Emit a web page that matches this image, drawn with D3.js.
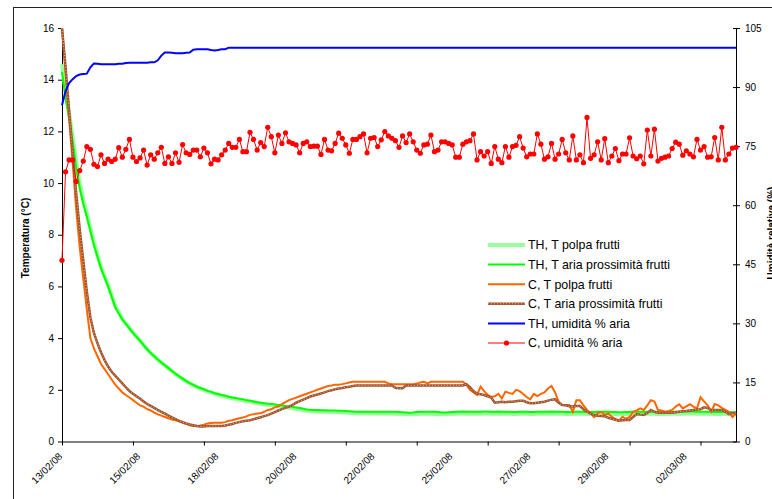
<!DOCTYPE html>
<html>
<head>
<meta charset="utf-8">
<script src="https://cdn.jsdelivr.net/npm/d3@7"></script>
<style>
  body { margin: 0; background: #fff; }
  text { font-family: "Liberation Sans", Arial, sans-serif; }
</style>
</head>
<body>
<div id="chart"></div>
<script>
// date labels shown on the category axis (one every 22 readings)
var xLabels = ["13/02/08", "15/02/08", "18/02/08", "20/02/08", "22/02/08",
  "25/02/08", "27/02/08", "29/02/08", "02/03/08"];
var labelEvery = 22, tickEvery = 20;

var tempTicks = [0, 2, 4, 6, 8, 10, 12, 14, 16];
var humTicks = [0, 15, 30, 45, 60, 75, 90, 105];

// TH, T polpa frutti
var tPolpaTH = [
  14.6, 13.6, 12.7, 11.8, 10.8, 10.0, 9.35, 8.8, 8.25, 7.7,
  7.2, 6.75, 6.4, 6.05, 5.65, 5.25, 5.0, 4.75, 4.57, 4.4,
  4.22, 4.06, 3.9, 3.73, 3.57, 3.42, 3.29, 3.16, 3.05, 2.94,
  2.83, 2.72, 2.61, 2.51, 2.42, 2.33, 2.25, 2.18, 2.11, 2.05,
  2.0, 1.94, 1.9, 1.85, 1.81, 1.77, 1.74, 1.7, 1.67, 1.65,
  1.62, 1.6, 1.57, 1.55, 1.52, 1.49, 1.47, 1.44, 1.42, 1.41,
  1.39, 1.37, 1.35, 1.33, 1.31, 1.29, 1.27, 1.25, 1.22, 1.19,
  1.17, 1.17, 1.16, 1.16, 1.15, 1.15, 1.14, 1.14, 1.13, 1.13,
  1.12, 1.11, 1.1, 1.09, 1.09, 1.09, 1.09, 1.08, 1.08, 1.08,
  1.08, 1.08, 1.08, 1.08, 1.07, 1.07, 1.06, 1.05, 1.05, 1.05,
  1.06, 1.07, 1.07, 1.07, 1.07, 1.06, 1.05, 1.05, 1.05, 1.06,
  1.07, 1.07, 1.08, 1.08, 1.07, 1.07, 1.07, 1.07, 1.07, 1.08,
  1.08, 1.07, 1.07, 1.08, 1.07, 1.07, 1.07, 1.06, 1.06, 1.07,
  1.07, 1.07, 1.06, 1.06, 1.07, 1.07, 1.07, 1.07, 1.08, 1.07,
  1.07, 1.07, 1.06, 1.06, 1.06, 1.07, 1.07, 1.07, 1.06, 1.06,
  1.06, 1.07, 1.07, 1.07, 1.07, 1.06, 1.06, 1.05, 1.05, 1.06,
  1.06, 1.07, 1.07, 1.07, 1.07, 1.07, 1.07, 1.07, 1.06, 1.06,
  1.06, 1.06, 1.07, 1.07, 1.07, 1.07, 1.08, 1.08, 1.08, 1.07,
  1.07, 1.07, 1.07, 1.07, 1.06, 1.06, 1.06, 1.06, 1.05, 1.05,
  1.05
];

// TH, T aria prossimita frutti
var tAriaTH = [
  14.3, 13.3, 12.5, 11.6, 10.6, 9.8, 9.2, 8.7, 8.15, 7.6,
  7.15, 6.7, 6.35, 6.0, 5.6, 5.2, 4.95, 4.72, 4.55, 4.38,
  4.2, 4.05, 3.9, 3.73, 3.57, 3.42, 3.3, 3.17, 3.06, 2.95,
  2.84, 2.73, 2.62, 2.52, 2.43, 2.34, 2.26, 2.19, 2.12, 2.07,
  2.02, 1.96, 1.92, 1.87, 1.84, 1.8, 1.77, 1.73, 1.7, 1.68,
  1.65, 1.63, 1.6, 1.58, 1.55, 1.52, 1.5, 1.48, 1.46, 1.45,
  1.43, 1.41, 1.39, 1.37, 1.36, 1.34, 1.32, 1.3, 1.27, 1.24,
  1.22, 1.22, 1.22, 1.21, 1.21, 1.2, 1.2, 1.2, 1.19, 1.19,
  1.18, 1.17, 1.16, 1.15, 1.15, 1.15, 1.15, 1.15, 1.15, 1.15,
  1.15, 1.15, 1.15, 1.15, 1.15, 1.14, 1.13, 1.12, 1.11, 1.12,
  1.14, 1.15, 1.15, 1.15, 1.15, 1.15, 1.14, 1.12, 1.12, 1.13,
  1.14, 1.15, 1.15, 1.16, 1.15, 1.15, 1.15, 1.15, 1.15, 1.16,
  1.16, 1.15, 1.15, 1.16, 1.15, 1.15, 1.15, 1.14, 1.14, 1.15,
  1.15, 1.15, 1.14, 1.14, 1.15, 1.15, 1.15, 1.15, 1.16, 1.15,
  1.15, 1.15, 1.14, 1.14, 1.14, 1.15, 1.15, 1.15, 1.14, 1.14,
  1.14, 1.15, 1.15, 1.15, 1.15, 1.14, 1.14, 1.13, 1.13, 1.14,
  1.14, 1.15, 1.15, 1.15, 1.15, 1.15, 1.15, 1.15, 1.14, 1.14,
  1.14, 1.14, 1.15, 1.15, 1.15, 1.15, 1.16, 1.16, 1.16, 1.15,
  1.15, 1.15, 1.15, 1.15, 1.14, 1.14, 1.14, 1.14, 1.13, 1.13,
  1.13
];

// C, T polpa frutti
var tPolpaC = [
  16, 14.3, 12.5, 10.8, 9.0, 7.5, 6.3, 5.1, 4.0, 3.6,
  3.3, 3.0, 2.8, 2.6, 2.4, 2.2, 2.05, 1.9, 1.8, 1.7,
  1.6, 1.5, 1.4, 1.35, 1.25, 1.2, 1.12, 1.05, 1.0, 0.95,
  0.9, 0.85, 0.82, 0.78, 0.72, 0.68, 0.63, 0.6, 0.6, 0.62,
  0.65, 0.7, 0.72, 0.73, 0.73, 0.73, 0.75, 0.8, 0.82, 0.86,
  0.9, 0.93, 0.97, 1.03, 1.05, 1.08, 1.09, 1.15, 1.22, 1.25,
  1.32, 1.36, 1.45, 1.52, 1.6, 1.65, 1.7, 1.75, 1.8, 1.85,
  1.9, 1.95, 2.0, 2.05, 2.1, 2.15, 2.17, 2.2, 2.2, 2.22,
  2.25, 2.28, 2.31, 2.31, 2.31, 2.31, 2.31, 2.31, 2.31, 2.31,
  2.31, 2.31, 2.25, 2.22, 2.22, 2.22, 2.22, 2.22, 2.22, 2.22,
  2.24, 2.28, 2.31, 2.25, 2.31, 2.31, 2.31, 2.31, 2.31, 2.31,
  2.31, 2.31, 2.31, 2.31, 2.2, 2.0, 1.9, 1.8, 2.12, 1.95,
  1.8, 1.73, 1.75, 1.84, 1.67, 1.93, 1.88, 1.84, 2.0, 1.95,
  1.84, 1.72, 1.63, 1.84, 1.76, 1.84, 1.9, 2.05, 2.15, 1.9,
  1.54, 1.41, 1.41, 1.41, 1.15, 1.6, 1.6, 1.4, 1.22, 1.1,
  0.94, 1.1, 1.15, 1.03, 1.09, 0.95, 0.88, 0.8, 0.96, 0.88,
  0.95, 1.15, 1.2, 1.28, 1.22, 1.4, 1.6, 1.55, 1.22, 1.2,
  1.15, 1.18, 1.22, 1.35, 1.44, 1.28, 1.36, 1.44, 1.35, 1.28,
  1.71, 1.55, 1.4, 1.15, 1.45, 1.4, 1.3, 1.22, 1.15, 0.94,
  1.09
];

// C, T aria prossimita frutti
var tAriaC = [
  16, 14.5, 12.8, 11.2, 9.6, 8.2, 7.0, 5.8, 4.8, 4.2,
  3.8, 3.45, 3.15, 2.9, 2.7, 2.55, 2.4, 2.25, 2.1, 1.95,
  1.85, 1.75, 1.65, 1.55, 1.45, 1.38, 1.3, 1.22, 1.15, 1.08,
  1.0, 0.93, 0.87, 0.8, 0.75, 0.7, 0.66, 0.63, 0.6, 0.58,
  0.58, 0.6, 0.6, 0.6, 0.6, 0.6, 0.62, 0.65, 0.68, 0.72,
  0.75, 0.78, 0.8, 0.82, 0.86, 0.9, 0.94, 0.98, 1.02, 1.08,
  1.14, 1.2, 1.25, 1.3, 1.35, 1.42, 1.5, 1.56, 1.62, 1.68,
  1.74, 1.78, 1.82, 1.86, 1.9, 1.95, 1.98, 2.02, 2.05, 2.07,
  2.1, 2.12, 2.15, 2.17, 2.17, 2.17, 2.17, 2.17, 2.17, 2.17,
  2.17, 2.17, 2.17, 2.17, 2.08, 2.06, 2.06, 2.17, 2.17, 2.17,
  2.17, 2.17, 2.17, 2.17, 2.17, 2.17, 2.17, 2.17, 2.17, 2.17,
  2.17, 2.17, 2.17, 2.17, 2.22, 2.1, 1.95, 1.85, 1.83, 1.8,
  1.75, 1.7, 1.5, 1.52, 1.54, 1.52, 1.54, 1.54, 1.56, 1.58,
  1.58, 1.52, 1.48, 1.48, 1.5, 1.52, 1.54, 1.58, 1.62, 1.63,
  1.5, 1.41, 1.4, 1.36, 1.35, 1.37, 1.37, 1.25, 1.15, 1.08,
  1.03, 1.0, 0.99, 0.98, 0.92, 0.88, 0.84, 0.8, 0.82, 0.83,
  0.83, 0.95, 1.06, 1.04, 1.03, 1.1, 1.22, 1.15, 1.11, 1.11,
  1.11, 1.11, 1.11, 1.13, 1.15, 1.17, 1.18, 1.2, 1.22, 1.24,
  1.25, 1.32, 1.3, 1.22, 1.22, 1.22, 1.22, 1.15, 1.06, 1.1,
  1.1
];

// TH, umidita % aria
var humTH = [
  85.4, 89, 91, 92, 92.8, 93.2, 93.3, 93.4, 95, 96,
  95.9, 95.8, 95.8, 95.8, 95.8, 95.8, 95.9, 95.9, 96.1, 96.2,
  96.2, 96.2, 96.2, 96.2, 96.2, 96.3, 96.3, 96.8, 98.0, 98.8,
  98.8, 98.7, 98.6, 98.6, 98.6, 98.7, 98.8, 99.5, 99.6, 99.6,
  99.6, 99.6, 99.4, 99.3, 99.4, 99.6, 99.6, 100, 100, 100,
  100, 100, 100, 100, 100, 100, 100, 100, 100, 100,
  100, 100, 100, 100, 100, 100, 100, 100, 100, 100,
  100, 100, 100, 100, 100, 100, 100, 100, 100, 100,
  100, 100, 100, 100, 100, 100, 100, 100, 100, 100,
  100, 100, 100, 100, 100, 100, 100, 100, 100, 100,
  100, 100, 100, 100, 100, 100, 100, 100, 100, 100,
  100, 100, 100, 100, 100, 100, 100, 100, 100, 100,
  100, 100, 100, 100, 100, 100, 100, 100, 100, 100,
  100, 100, 100, 100, 100, 100, 100, 100, 100, 100,
  100, 100, 100, 100, 100, 100, 100, 100, 100, 100,
  100, 100, 100, 100, 100, 100, 100, 100, 100, 100,
  100, 100, 100, 100, 100, 100, 100, 100, 100, 100,
  100, 100, 100, 100, 100, 100, 100, 100, 100, 100,
  100, 100, 100, 100, 100, 100, 100, 100, 100, 100,
  100
];

// C, umidita % aria
var humC = [
  46, 68.5, 71.5, 71.5, 66, 68.8, 71.2, 74.9, 74.2, 70.4,
  69.8, 72.8, 70.6, 71.7, 71.1, 71.7, 74.6, 72.2, 74.2, 76.7,
  72.2, 71.1, 72, 74, 70.2, 72.8, 71.7, 73.3, 74.7, 70.6,
  72.3, 70.6, 73.3, 70.9, 75.4, 73.3, 72.9, 74, 74, 72.3,
  74.5, 73.3, 70.5, 71.7, 71.5, 72.8, 74, 75.7, 74.7, 74.7,
  76.7, 73.6, 73.6, 78.5, 76.7, 74, 75.9, 74.9, 79.8, 77.4,
  73.3, 77.8, 75.7, 78.4, 76.1, 75.7, 75.3, 73.3, 75.7, 76.1,
  74.9, 75, 75, 72.9, 76.7, 74, 73.8, 75.7, 78.3, 77,
  75.3, 73.2, 76.7, 76.7, 77.4, 78.1, 73.3, 77, 77.2, 74.9,
  76.6, 78.7, 77.6, 77, 76.4, 74.7, 77.6, 75.9, 78.1, 76.1,
  74, 73.2, 75.3, 75.5, 77.8, 73.6, 74, 76.1, 76.1, 75.7,
  75.3, 72.2, 72.2, 75.5, 76.1, 76.4, 78.1, 71.5, 73.6, 72.5,
  73.6, 70.6, 74.9, 71.7, 70.8, 74.9, 72.2, 74.9, 75.2, 77.4,
  74.5, 72.3, 73, 73, 78.1, 75.5, 71.7, 72.3, 75.7, 71.7,
  73, 76.7, 73.3, 71.5, 77.6, 71.5, 72.8, 70.8, 82.3, 71.9,
  72.8, 76.1, 71.5, 76.9, 70.8, 72.5, 74.4, 71.3, 73, 73,
  77.1, 72.5, 71.8, 72.5, 70.5, 79.1, 72.5, 79.3, 71.2, 71.9,
  72.2, 72.5, 74.4, 76, 75.5, 72.7, 73.8, 73, 72.3, 76.7,
  74, 74.9, 72.2, 72.3, 77.2, 71.5, 79.8, 71.5, 73, 74.5,
  74.7
];

var width = 772, height = 499;
var plot = { left: 62, right: 736, top: 28, bottom: 441.5 };

var svg = d3
  .select("#chart")
  .append("svg")
  .attr("width", width)
  .attr("height", height);

// outer chart frame (runs off the picture on the right and bottom)
svg
  .append("rect")
  .attr("x", 13.5)
  .attr("y", 7.5)
  .attr("width", 800)
  .attr("height", 600)
  .attr("fill", "none")
  .attr("stroke", "#222");

var x = d3.scaleLinear().domain([0, humC.length - 1]).range([plot.left, plot.right]);
var yT = d3.scaleLinear().domain([0, 16]).range([plot.bottom, plot.top]);
var yH = d3.scaleLinear().domain([0, 105]).range([plot.bottom, plot.top]);

// left axis
var gl = svg
  .append("g")
  .attr("transform", "translate(" + plot.left + ",0)")
  .call(d3.axisLeft(yT).tickValues(tempTicks).tickSize(4).tickSizeOuter(0).tickPadding(4));

// right axis
var gr = svg
  .append("g")
  .attr("transform", "translate(" + plot.right + ",0)")
  .call(d3.axisRight(yH).tickValues(humTicks).tickSize(4).tickSizeOuter(0).tickPadding(5));
gr.selectAll(".tick line").attr("x1", -3);

// bottom axis: tick marks every 20 readings, labels every 22
var tickIdx = d3.range(0, humC.length, tickEvery);
var gb = svg
  .append("g")
  .attr("transform", "translate(0," + plot.bottom + ")")
  .call(d3.axisBottom(x).tickValues(tickIdx).tickSize(4).tickSizeOuter(0).tickFormat(""));

[gl, gr, gb].forEach(function (g) {
  g.select(".domain").attr("stroke", "#000");
  g.selectAll(".tick line").attr("stroke", "#000");
  g.selectAll("text")
    .attr("fill", "#000")
    .style("font-size", "10px")
    .style("font-family", "'Liberation Sans', Arial, sans-serif");
});

svg
  .append("g")
  .selectAll("text")
  .data(xLabels)
  .enter()
  .append("text")
  .attr("transform", function (d, i) {
    return "translate(" + (x(i * labelEvery) + 1) + ",457)rotate(-45)";
  })
  .attr("text-anchor", "end")
  .style("font-size", "10px")
  .text(function (d) {
    return d;
  });

// axis titles
svg
  .append("text")
  .attr("transform", "translate(29,238)rotate(-90)")
  .attr("text-anchor", "middle")
  .style("font-size", "10px")
  .style("font-weight", "bold")
  .text("Temperatura (°C)");

svg
  .append("text")
  .attr("transform", "translate(775,233)rotate(-90)")
  .attr("text-anchor", "middle")
  .style("font-size", "10px")
  .style("font-weight", "bold")
  .text("Umidità relativa (%)");

// series
function tLine(vals) {
  return d3
    .line()
    .x(function (d, i) { return x(i); })
    .y(function (d) { return yT(d); })(vals);
}
function hLine(vals) {
  return d3
    .line()
    .x(function (d, i) { return x(i); })
    .y(function (d) { return yH(d); })(vals);
}

svg.append("path").attr("d", tLine(tPolpaTH)).attr("fill", "none")
  .attr("stroke", "#99FF99").attr("stroke-width", 4);
svg.append("path").attr("d", tLine(tAriaTH)).attr("fill", "none")
  .attr("stroke", "#00FF00").attr("stroke-width", 2);
svg.append("path").attr("d", tLine(tPolpaC)).attr("fill", "none")
  .attr("stroke", "#FF6600").attr("stroke-width", 2);
svg.append("path").attr("d", tLine(tAriaC)).attr("fill", "none")
  .attr("stroke", "#A0522D").attr("stroke-width", 2.5);
svg.append("path").attr("d", tLine(tAriaC)).attr("fill", "none")
  .attr("stroke", "#E6B896").attr("stroke-width", 1).attr("stroke-dasharray", "1,2");
svg.append("path").attr("d", hLine(humTH)).attr("fill", "none")
  .attr("stroke", "#0000FF").attr("stroke-width", 2);
svg.append("path").attr("d", hLine(humC)).attr("fill", "none")
  .attr("stroke", "#FF0000").attr("stroke-width", 1);
svg
  .append("g")
  .selectAll("circle")
  .data(humC)
  .enter()
  .append("circle")
  .attr("cx", function (d, i) { return x(i); })
  .attr("cy", function (d) { return yH(d); })
  .attr("r", 2.6)
  .attr("fill", "#FF0000");

// legend
var legendItems = [
  { name: "TH, T polpa frutti", color: "#99FF99", w: 4 },
  { name: "TH, T aria prossimità frutti", color: "#00FF00", w: 2 },
  { name: "C, T polpa frutti", color: "#FF6600", w: 2 },
  { name: "C, T aria prossimità frutti", color: "#A0522D", w: 2.5, dots: true },
  { name: "TH, umidità % aria", color: "#0000FF", w: 2 },
  { name: "C, umidità % aria", color: "#FF0000", w: 1, marker: true }
];
var lg = svg.append("g").attr("transform", "translate(488,245)");
legendItems.forEach(function (it, i) {
  var yy = i * 19.6;
  lg.append("line").attr("x1", 0).attr("x2", 37).attr("y1", yy).attr("y2", yy)
    .attr("stroke", it.color).attr("stroke-width", it.w);
  if (it.dots)
    lg.append("line").attr("x1", 0).attr("x2", 37).attr("y1", yy).attr("y2", yy)
      .attr("stroke", "#E6B896").attr("stroke-width", 1).attr("stroke-dasharray", "1,2");
  if (it.marker)
    lg.append("circle").attr("cx", 18.5).attr("cy", yy).attr("r", 2.6).attr("fill", it.color);
  lg.append("text").attr("x", 40).attr("y", yy).attr("dy", "0.36em")
    .style("font-size", "12.4px").text(it.name);
});
</script>
</body>
</html>
